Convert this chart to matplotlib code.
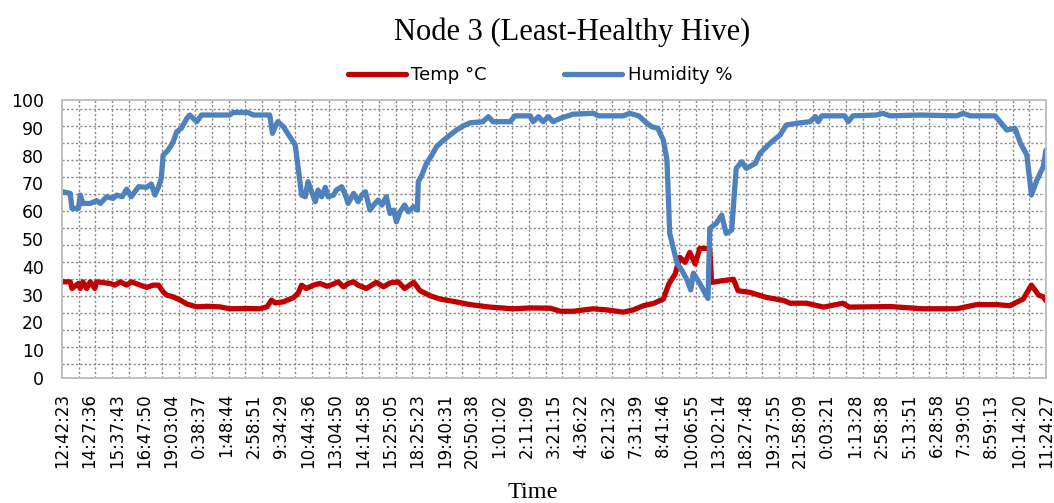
import numpy as np
import matplotlib
matplotlib.use("Agg")
import matplotlib.pyplot as plt

# Tick labels along the time axis (one label every 30 readings)
time_labels = [
    "12:42:23", "14:27:36", "15:37:43", "16:47:50", "19:03:04", "0:38:37",
    "1:48:44", "2:58:51", "9:34:29", "10:44:36", "13:04:50", "14:14:58",
    "15:25:05", "18:25:23", "19:40:31", "20:50:38", "1:01:02", "2:11:09",
    "3:21:15", "4:36:22", "6:21:32", "7:31:39", "8:41:46", "10:06:55",
    "13:02:14", "18:27:48", "19:37:55", "21:58:09", "0:03:21", "1:13:28",
    "2:58:38", "5:13:51", "6:28:58", "7:39:05", "8:59:13", "10:14:20",
    "11:24:27",
]
readings_per_label = 30

# Humidity % readings (reading number, value)
hum_reading = [
    0, 9, 11, 18, 20, 23, 31, 38, 42, 49, 56, 60, 66, 71, 76, 84, 93, 98,
    102, 106, 109, 111, 115, 119, 122, 126, 131, 137, 140, 148, 153, 184,
    188, 204, 210, 228, 231, 234, 237, 243, 250, 256, 259, 263, 267, 270,
    274, 278, 281, 285, 289, 292, 298, 301, 307, 311, 314, 320, 325, 329,
    333, 338, 342, 347, 351, 356, 360, 364, 367, 371, 376, 380, 386, 390,
    391, 395, 400, 406, 411, 419, 426, 433, 440, 448, 462, 468, 473, 492,
    497, 514, 517, 523, 528, 534, 539, 547, 561, 583, 589, 616, 623, 633,
    640, 647, 654, 660, 664, 667, 675, 680, 686, 690, 693, 700, 709, 711,
    718, 724, 729, 735, 740, 746, 751, 761, 766, 777, 788, 795, 806, 821,
    827, 830, 834, 859, 863, 868, 894, 901, 909, 942, 982, 989, 997, 1024,
    1031, 1037, 1046, 1052, 1059, 1064, 1070, 1077, 1080,
]
hum_values = [
    67.0, 66.4, 61.0, 61.0, 65.8, 62.8, 62.8, 63.8, 62.8, 65.2, 64.6, 65.8,
    65.2, 67.9, 65.2, 68.8, 68.6, 69.8, 65.8, 68.8, 71.9, 80.2, 81.4, 83.2,
    85.0, 88.6, 89.8, 93.4, 94.6, 92.2, 94.6, 94.6, 95.5, 95.5, 94.6, 94.6,
    88.0, 90.4, 92.2, 90.4, 86.8, 83.8, 76.0, 65.8, 65.2, 70.6, 67.0, 63.4,
    67.6, 65.2, 68.6, 65.2, 65.8, 67.6, 68.8, 65.8, 62.8, 66.4, 63.4, 65.8,
    67.0, 60.4, 62.2, 64.0, 62.2, 65.2, 59.2, 60.4, 56.2, 59.8, 62.2, 59.8,
    61.6, 60.4, 70.6, 73.0, 77.2, 80.2, 83.2, 85.6, 87.4, 89.2, 90.6, 91.8,
    92.2, 94.0, 92.2, 92.2, 94.3, 94.3, 92.2, 94.0, 92.2, 94.0, 92.2, 93.4,
    94.9, 95.2, 94.3, 94.3, 95.2, 94.3, 92.2, 90.4, 89.8, 85.6, 78.4, 52.0,
    41.3, 38.9, 35.3, 31.7, 37.7, 34.0, 28.6, 53.8, 55.6, 58.6, 52.0, 53.2,
    75.4, 77.8, 75.4, 77.2, 80.8, 84.4, 87.4, 91.0, 91.6, 92.2, 94.0, 92.2,
    94.3, 94.3, 92.2, 94.3, 94.6, 95.2, 94.3, 94.6, 94.3, 95.2, 94.3, 94.3,
    91.6, 89.2, 89.8, 84.4, 80.2, 65.8, 71.2, 76.0, 82.0,
]

# Temperature °C readings (reading number, value)
temp_reading = [
    0, 9, 11, 18, 20, 23, 27, 31, 36, 38, 53, 58, 64, 71, 76, 86, 93, 100,
    106, 111, 115, 122, 130, 137, 148, 159, 173, 184, 203, 217, 225, 230,
    234, 243, 254, 259, 263, 268, 276, 283, 291, 298, 303, 309, 314, 320,
    325, 334, 345, 353, 360, 369, 376, 386, 393, 404, 415, 429, 448, 470,
    495, 514, 536, 547, 561, 583, 598, 616, 627, 638, 649, 660, 666, 673,
    678, 684, 689, 695, 700, 708, 711, 713, 725, 737, 742, 755, 773, 792,
    799, 817, 836, 857, 864, 909, 945, 982, 1004, 1026, 1040, 1055, 1064,
    1072, 1077, 1080,
]
temp_values = [
    34.6, 34.6, 32.2, 34.0, 32.2, 34.6, 32.2, 34.6, 32.2, 34.6, 34.0, 33.4,
    34.6, 33.4, 34.6, 33.4, 32.6, 33.4, 33.4, 31.0, 29.8, 29.2, 28.0, 26.6,
    25.6, 25.8, 25.6, 24.9, 25.0, 24.9, 25.6, 28.0, 27.0, 27.4, 28.9, 30.4,
    33.4, 32.2, 33.4, 34.0, 33.0, 33.8, 34.6, 32.8, 34.0, 34.6, 33.4, 32.2,
    34.4, 32.8, 34.2, 34.6, 32.2, 34.4, 31.4, 29.6, 28.4, 27.6, 26.4, 25.5,
    24.9, 25.2, 25.1, 24.0, 24.0, 24.9, 24.5, 23.7, 24.5, 26.0, 26.8, 28.4,
    33.8, 37.4, 43.4, 41.6, 45.2, 41.0, 46.6, 46.6, 46.0, 34.4, 35.0, 35.5,
    31.4, 30.8, 29.0, 27.9, 26.9, 26.9, 25.5, 26.9, 25.5, 25.7, 24.9, 24.9,
    26.4, 26.4, 26.0, 28.4, 33.4, 29.8, 29.2, 27.8,
]

red = "#C00000"
blue = "#4F81BD"

fig = plt.figure(figsize=(10.54, 5.03), dpi=100)
ax = fig.add_axes([62 / 1054, 125 / 503, 984 / 1054, 278 / 503])

ax.plot(temp_reading, temp_values, color=red, lw=3.8, label="Temp °C",
        solid_joinstyle="round", solid_capstyle="round")
ax.plot(hum_reading, hum_values, color=blue, lw=3.8, label="Humidity %",
        solid_joinstyle="round", solid_capstyle="round")

last = readings_per_label * (len(time_labels) - 1)
ax.set_xlim(0, last)
ax.set_ylim(0, 100)

ax.set_xticks(np.arange(len(time_labels)) * readings_per_label)
ax.set_xticklabels(time_labels, rotation=90, fontsize=12, family="DejaVu Sans")
ax.set_yticks(np.arange(0, 101, 10))
ax.tick_params(axis="y", labelsize=12.5, pad=13)
ax.tick_params(axis="x", pad=11)
ax.tick_params(which="both", length=0)

# dotted grid (not aligned with the tick labels in the source chart)
ax.set_xticks(np.linspace(0, last, 60)[1:-1], minor=True)
ax.set_yticks(np.linspace(5.04, 96.65, 16), minor=True)
ax.grid(which="minor", color="#8a8a8a", lw=1.0, ls=(0, (1.6, 1.6)))
ax.grid(which="major", visible=False)
ax.set_axisbelow(True)

for s in ax.spines.values():
    s.set_color("#C0C0C0")
    s.set_linewidth(1.4)

fig.text(572 / 1054, 1 - 32 / 503, "Node 3 (Least-Healthy Hive)",
         ha="center", va="center", fontsize=22, family="Liberation Serif")
fig.text(533 / 1054, 1 - 492 / 503, "Time", ha="center", va="center",
         fontsize=17.5, family="Liberation Serif")

fig.legend(loc="center", bbox_to_anchor=(540 / 1054, 1 - 75 / 503), ncol=2,
           frameon=False, fontsize=13, handlelength=3.2, handletextpad=0.3,
           columnspacing=4.3)

fig.savefig("out.png", dpi=100)
